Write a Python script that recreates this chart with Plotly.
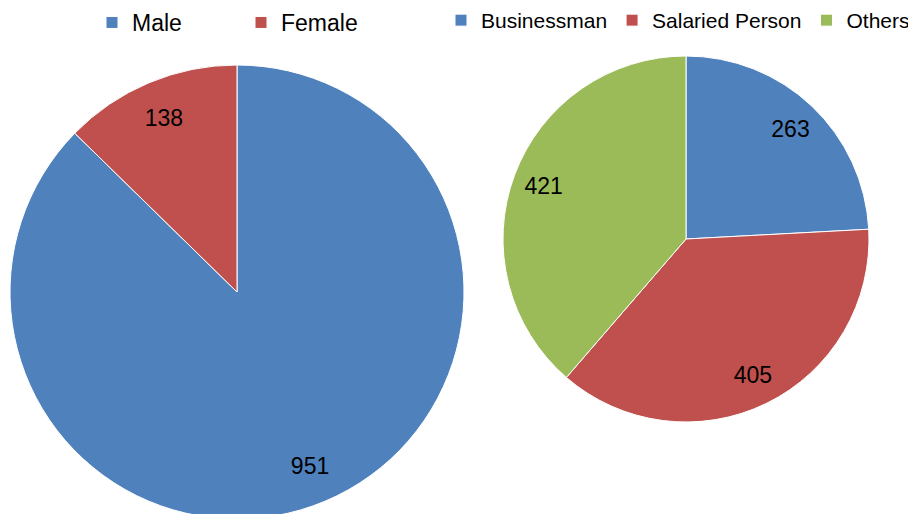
import plotly.graph_objects as go

gender_labels = ["Male", "Female"]
gender_values = [951, 138]
occupation_labels = ["Businessman", "Salaried Person", "Others"]
occupation_values = [263, 405, 421]

BLUE = "#4F81BD"
RED = "#C0504D"
GREEN = "#9BBB59"
FONT = "Liberation Sans, Arial, sans-serif"

W, H = 916, 514
OFF = 8  # page body margin shifts the figure by 8px


def dom(x0, x1, y0, y1):
    x0, x1, y0, y1 = x0 - OFF, x1 - OFF, y0 - OFF, min(y1 - OFF, H)
    return dict(x=[max(x0, 0) / W, x1 / W], y=[1 - y1 / H, 1 - y0 / H])


left_dom = dom(10, 464, 65, 519)
right_dom = dom(503, 869, 56, 422)

fig = go.Figure()

# main pies
fig.add_trace(go.Pie(
    labels=gender_labels, values=gender_values, domain=left_dom,
    sort=False, direction="clockwise", rotation=0,
    marker=dict(colors=[BLUE, RED], line=dict(color="white", width=1)),
    textinfo="none", legend="legend", hoverinfo="label+value",
))
fig.add_trace(go.Pie(
    labels=occupation_labels, values=occupation_values, domain=right_dom,
    sort=False, direction="clockwise", rotation=0,
    marker=dict(colors=[BLUE, RED, GREEN], line=dict(color="white", width=1)),
    textinfo="none", legend="legend2", hoverinfo="label+value",
))

# transparent ring overlays used only to place the value labels near the rim
for labels, values, d in [(gender_labels, gender_values, left_dom),
                          (occupation_labels, occupation_values, right_dom)]:
    fig.add_trace(go.Pie(
        labels=labels, values=values, domain=d, hole=0.66,
        sort=False, direction="clockwise", rotation=0,
        marker=dict(colors=["rgba(0,0,0,0)"] * len(values), line=dict(width=0)),
        textinfo="value", textposition="inside", insidetextorientation="horizontal",
        textfont=dict(size=23, color="black", family=FONT),
        showlegend=False, hoverinfo="skip",
    ))

fig.update_layout(
    width=W, height=H,
    margin=dict(l=0, r=0, t=0, b=0, autoexpand=False),
    paper_bgcolor="white", plot_bgcolor="white",
    font=dict(family=FONT, color="black"),
    legend=dict(orientation="h", x=84 / W, xanchor="left", y=1 + 7 / H, yanchor="top",
                font=dict(size=23, family=FONT), entrywidth=104, entrywidthmode="pixels",
                bgcolor="rgba(0,0,0,0)"),
    legend2=dict(orientation="h", x=433 / W, xanchor="left", y=1 + 8 / H, yanchor="top",
                 font=dict(size=21, family=FONT), bgcolor="rgba(0,0,0,0)"),
)

fig.write_html("out.html")
